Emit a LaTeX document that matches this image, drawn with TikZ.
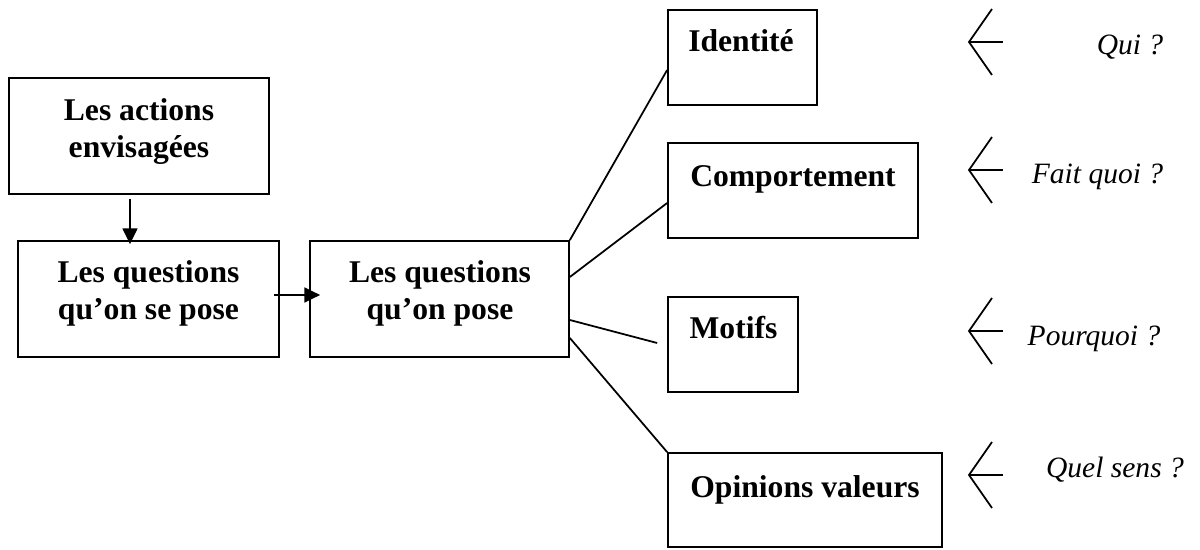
\documentclass[tikz,border=0pt]{standalone}
\usepackage{fontspec}
\setmainfont{Liberation Serif}
\usetikzlibrary{calc, arrows.meta}

\begin{document}
\begin{tikzpicture}[x=0.02cm, y=-0.02cm, line width=1pt,
  boite/.style={draw, inner sep=0pt},
  titre/.style={align=center, font=\bfseries\fontsize{18}{21}\selectfont},
  question/.style={anchor=base, font=\itshape\fontsize{16.8}{20}\selectfont},
  fleche/.style={-{Triangle[length=9pt,width=8.5pt]}}]

\useasboundingbox (0,0) rectangle (1200,550);

% boites de gauche
\node[boite, minimum width=5.2cm, minimum height=2.32cm] (act) at (139,136) {};
\node[boite, minimum width=5.22cm, minimum height=2.32cm] (qse) at (148.5,299) {};
\node[boite, minimum width=5.18cm, minimum height=2.32cm] (pose) at (439.5,299) {};

\node[titre] (tact) at (139,131.5) {Les actions\\envisagées};
\node[titre] (tqse) at (148.5,293.5) {Les questions\\qu’on se pose};
\node[titre] (tpose) at (440,293.5) {Les questions\\qu’on pose};

\draw[fleche] ($(act.south)+(-9,4)$) -- ($(act.south |- qse.north)+(-9,4)$);
\draw[fleche] ($(qse.east)+(-6,-4)$) -- ($(pose.west)+(11,-4)$);

% boites de droite
\node[boite, minimum width=2.98cm, minimum height=1.9cm] (id) at (742.5,57.5) {};
\node[boite, minimum width=5cm, minimum height=1.9cm] (comp) at (793,190.5) {};
\node[boite, minimum width=2.6cm, minimum height=1.9cm] (mot) at (733,344.5) {};
\node[boite, minimum width=5.48cm, minimum height=1.88cm] (opi) at (805,500) {};

\node[titre, anchor=base] (tid) at (741,52) {Identité};
\node[titre, anchor=base] (tcomp) at (793,187) {Comportement};
\node[titre, anchor=base] (tmot) at (733.5,339) {Motifs};
\node[titre, anchor=base] (topi) at (805,497) {Opinions valeurs};

\draw (pose.north east) -- ($(id.west)+(0,12.5)$);
\draw ($(pose.east)+(0,-22)$) -- ($(comp.west)+(0,12.5)$);
\draw ($(pose.east)+(0,21)$) -- ($(mot.west)+(-10,-1.5)$);
\draw ($(pose.east)+(0,39)$) -- (opi.north west);

% fleches ouvertes
\foreach \y in {42,170,331,475} {
  \draw (992,\y-33) -- (969,\y) -- (992,\y+33);
  \draw (969,\y) -- (1003,\y);
}

\node[question] (q1) at (1130,55) {Qui ?};
\node[question] (q2) at (1097.5,184) {Fait quoi ?};
\node[question] (q3) at (1094,346) {Pourquoi ?};
\node[question] (q4) at (1115,477) {Quel sens ?};

\end{tikzpicture}
\end{document}
